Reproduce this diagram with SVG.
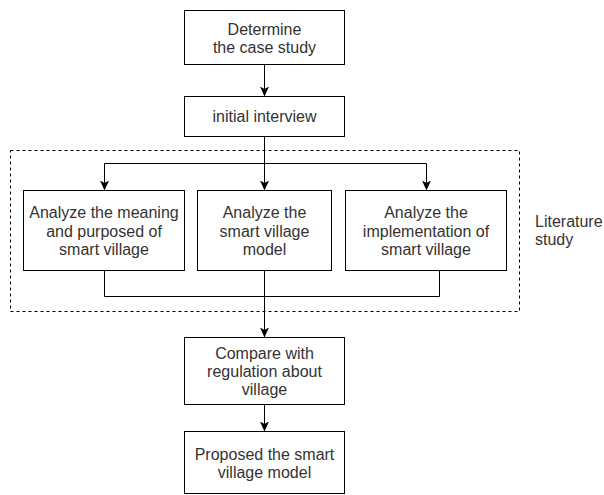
<svg xmlns="http://www.w3.org/2000/svg" width="604" height="495" viewBox="0 0 604 495">
<style>
.box{fill:#fff;stroke:#000;stroke-width:1}
.lbl{font-family:"Liberation Sans",Arial,sans-serif;font-size:16px;fill:#333;text-anchor:middle}
.lbl2{font-family:"Liberation Sans",Arial,sans-serif;font-size:16px;fill:#333;text-anchor:start}
.ln{fill:none;stroke:#000;stroke-width:1}
.ar{fill:none;stroke:#000;stroke-width:1;marker-end:url(#ah)}
</style>
<defs>
<marker id="ah" viewBox="0 0 10 10" refX="10" refY="5" markerWidth="10" markerHeight="10" markerUnits="userSpaceOnUse" orient="auto">
<path d="M0,0.5 L10,5 L0,9.5 L2.5,5 z" fill="#000"/>
</marker>
</defs>
<rect x="0" y="0" width="604" height="495" fill="#fff"/>
<g id="literature-group">
<rect x="10.5" y="150.5" width="509" height="161" fill="none" stroke="#000" stroke-width="1" stroke-dasharray="3,3"/>
<text class="lbl2" x="535" y="227">Literature</text>
<text class="lbl2" x="535" y="245">study</text>
</g>
<g id="connectors">
<path class="ar" d="M264.5,64.5 L264.5,96.5"/>
<path class="ln" d="M264.5,136.5 L264.5,163.5"/>
<path class="ln" d="M104.5,163.5 L426.5,163.5"/>
<path class="ar" d="M104.5,163.5 L104.5,190.5"/>
<path class="ar" d="M264.5,163.5 L264.5,190.5"/>
<path class="ar" d="M426.5,163.5 L426.5,190.5"/>
<path class="ln" d="M104.5,270.5 L104.5,296.5 L439.5,296.5 L439.5,270.5"/>
<path class="ar" d="M264.5,270.5 L264.5,337.5"/>
<path class="ar" d="M264.5,404.5 L264.5,431.5"/>
</g>
<g id="n1">
<rect class="box" x="184.5" y="10.5" width="160" height="54"/>
<text class="lbl" x="264.5" y="35">Determine</text>
<text class="lbl" x="264.5" y="53">the case study</text>
</g>
<g id="n2">
<rect class="box" x="184.5" y="96.5" width="160" height="40"/>
<text class="lbl" x="264.5" y="122">initial interview</text>
</g>
<g id="n3">
<rect class="box" x="23.5" y="190.5" width="161" height="80"/>
<text class="lbl" x="104" y="218">Analyze the meaning</text>
<text class="lbl" x="104" y="236.5">and purposed of</text>
<text class="lbl" x="104" y="255">smart village</text>
</g>
<g id="n4">
<rect class="box" x="197.5" y="190.5" width="134" height="80"/>
<text class="lbl" x="264.5" y="218">Analyze the</text>
<text class="lbl" x="264.5" y="236.5">smart village</text>
<text class="lbl" x="264.5" y="255">model</text>
</g>
<g id="n5">
<rect class="box" x="345.5" y="190.5" width="161" height="80"/>
<text class="lbl" x="426" y="218">Analyze the</text>
<text class="lbl" x="426" y="236.5">implementation of</text>
<text class="lbl" x="426" y="255">smart village</text>
</g>
<g id="n6">
<rect class="box" x="184.5" y="337.5" width="160" height="67"/>
<text class="lbl" x="264.5" y="358.5">Compare with</text>
<text class="lbl" x="264.5" y="376.5">regulation about</text>
<text class="lbl" x="264.5" y="394.5">village</text>
</g>
<g id="n7">
<rect class="box" x="184.5" y="431.5" width="160" height="62"/>
<text class="lbl" x="264.5" y="460">Proposed the smart</text>
<text class="lbl" x="264.5" y="478">village model</text>
</g>
</svg>
